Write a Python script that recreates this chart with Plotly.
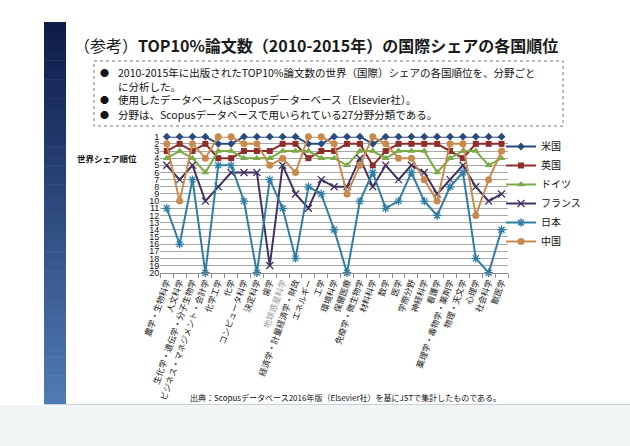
import plotly.graph_objects as go

W, H = 630, 446

categories = ["農学・生物科学", "人文科学", "生化学・遺伝学・分子生物学", "ビジネス・マネジメント・会計学",
              "化学工学", "化学", "コンピュータ科学", "決定科学", "歯学", "地球惑星科学",
              "経済学・計量経済学・財政", "エネルギー", "工学", "環境科学", "保健医療",
              "免疫学・微生物学", "材料科学", "数学", "医学", "学際分野", "神経科学", "看護学",
              "薬理学・毒物学・薬剤学", "物理・天文学", "心理学", "社会科学", "獣医学"]

rank_us = [1, 1, 1, 1, 2, 2, 1, 1, 1, 1, 1, 2, 2, 1, 1, 1, 2, 1, 1, 1, 1, 1, 1, 1, 1, 1, 1]
rank_uk = [3, 2, 3, 2, 4, 4, 3, 3, 3, 2, 2, 4, 3, 3, 2, 2, 5, 3, 2, 2, 2, 2, 3, 4, 2, 2, 2]
rank_de = [4, 3, 4, 6, 3, 3, 4, 4, 4, 3, 3, 3, 4, 4, 5, 3, 3, 4, 3, 3, 3, 6, 4, 3, 3, 5, 4]
rank_fr = [5, 7, 5, 10, 8, 6, 6, 6, 19, 5, 9, 11, 7, 8, 8, 4, 8, 5, 7, 5, 6, 9, 7, 5, 8, 10, 9]
rank_jp = [11, 16, 7, 20, 5, 5, 10, 20, 7, 11, 18, 8, 9, 14, 20, 10, 6, 11, 10, 6, 10, 12, 8, 6, 18, 20, 14]
rank_cn = [2, 10, 2, 4, 1, 1, 2, 2, 5, 4, 6, 1, 1, 2, 9, 5, 1, 2, 4, 4, 7, 10, 2, 2, 12, 7, 3]

series_names = ["米国", "英国", "ドイツ", "フランス", "日本", "中国"]
y_ticks = list(range(1, 21))

title_text = "<span style='font-weight:normal'>（参考）</span><b>TOP10%論文数（2010-2015年）の国際シェアの各国順位</b>"
bullets = ["2010-2015年に出版されたTOP10%論文数の世界（国際）シェアの各国順位を、分野ごと",
           "に分析した。",
           "使用したデータベースはScopusデーターベース（Elsevier社）。",
           "分野は、Scopusデータベースで用いられている27分野分類である。"]
source_text = "出典：Scopusデータベース2016年版（Elsevier社）を基にJSTで集計したものである。"
ytitle_text = "世界シェア順位"

JP_FONT = "Noto Sans CJK JP"

def px(x):
    return x / W

def py(y):
    return 1 - y / H

styles = [
    dict(color="#2A4A7C", symbol="diamond", size=6),
    dict(color="#8E2E2C", symbol="square", size=6),
    dict(color="#7BAA47", symbol="triangle-up", size=7),
    dict(color="#433160", symbol="x-thin", size=7),
    dict(color="#2F7CA5", symbol="asterisk", size=7),
    dict(color="#C88A4D", symbol="circle", size=7),
]
all_ranks = [rank_us, rank_uk, rank_de, rank_fr, rank_jp, rank_cn]

fig = go.Figure()
for name, vals, st in zip(series_names, all_ranks, styles):
    marker = dict(symbol=st["symbol"], size=st["size"], color=st["color"])
    if st["symbol"] in ("x-thin", "asterisk"):
        marker["line"] = dict(color=st["color"], width=1.3)
    fig.add_trace(go.Scatter(x=categories, y=vals, name=name, mode="lines+markers",
                             line=dict(color=st["color"], width=2), marker=marker,
                             cliponaxis=False))

ticktext = [("<span style='color:#9a9a9a'>" + c + "</span>") if c == "地球惑星科学" else c for c in categories]

shapes = []
# left blue band gradient
n = 40
top, bot = 22, 404
c0 = (14, 28, 74)
c1 = (80, 122, 180)
for i in range(n):
    t = i / (n - 1)
    col = "rgb(%d,%d,%d)" % tuple(int(a + (b - a) * t) for a, b in zip(c0, c1))
    y0 = top + (bot - top) * i / n
    y1 = top + (bot - top) * (i + 1) / n + 0.5
    shapes.append(dict(type="rect", xref="paper", yref="paper", x0=px(44), x1=px(66),
                       y0=py(y0), y1=py(y1), fillcolor=col, line=dict(width=0), layer="below"))
# bottom light area
shapes.append(dict(type="rect", xref="paper", yref="paper", x0=0, x1=1, y0=0, y1=py(405),
                   fillcolor="#F1F5F6", line=dict(width=0), layer="below"))
shapes.append(dict(type="line", xref="paper", yref="paper", x0=px(44), x1=1, y0=py(404.5), y1=py(404.5),
                   line=dict(color="#C9D2DA", width=1), layer="below"))
# dotted box
shapes.append(dict(type="rect", xref="paper", yref="paper", x0=px(94), x1=px(563), y0=py(61), y1=py(126),
                   line=dict(color="#777777", width=1, dash="dot"), fillcolor="rgba(0,0,0,0)"))

annotations = []
annotations.append(dict(text=title_text, xref="paper", yref="paper", x=px(72), y=py(45),
                        xanchor="left", yanchor="middle", showarrow=False,
                        font=dict(family=JP_FONT, size=16, color="#1a1a1a")))
bullet_y = [72, 86, 100, 115]
for i, (txt, yy) in enumerate(zip(bullets, bullet_y)):
    if i != 1:
        annotations.append(dict(text="●", xref="paper", yref="paper", x=px(104), y=py(yy),
                                xanchor="center", yanchor="middle", showarrow=False,
                                font=dict(family=JP_FONT, size=9, color="#111111")))
    annotations.append(dict(text=txt, xref="paper", yref="paper", x=px(116), y=py(yy),
                            xanchor="left", yanchor="middle", showarrow=False,
                            font=dict(family=JP_FONT, size=10.5, color="#111111")))
annotations.append(dict(text="<b>" + ytitle_text + "</b>", xref="paper", yref="paper", x=px(107), y=py(158),
                        xanchor="center", yanchor="middle", showarrow=False,
                        font=dict(family=JP_FONT, size=8.5, color="#111111")))
annotations.append(dict(text=source_text, xref="paper", yref="paper", x=px(345), y=py(397),
                        xanchor="center", yanchor="middle", showarrow=False,
                        font=dict(family=JP_FONT, size=8, color="#111111")))

fig.update_layout(
    width=W, height=H,
    margin=dict(l=0, r=0, t=0, b=0, autoexpand=False),
    paper_bgcolor="white", plot_bgcolor="white",
    showlegend=True,
    legend=dict(x=px(501), y=py(132), xanchor="left", yanchor="top",
                font=dict(family=JP_FONT, size=10, color="#111111"),
                bgcolor="rgba(0,0,0,0)", itemwidth=30, tracegroupgap=0),
    shapes=shapes,
    annotations=annotations,
    xaxis=dict(domain=[px(160.3), px(508)], type="category", automargin=False,
               range=[-0.5, len(categories) - 0.5], autorange=False,
               tickmode="array", tickvals=categories, ticktext=ticktext,
               tickangle=-70, tickson="boundaries", ticks="outside", ticklen=4,
               tickcolor="#8c8c8c", showline=True, linecolor="#8c8c8c", linewidth=1,
               showgrid=False, tickfont=dict(family=JP_FONT, size=8.5, color="#222222")),
    yaxis=dict(domain=[py(272.7), py(136.7)], range=[20, 1], autorange=False, automargin=False,
               tickmode="array", tickvals=y_ticks, ticks="", showline=False,
               showgrid=True, gridcolor="#A8A8A8", gridwidth=1, zeroline=False,
               tickfont=dict(family="Liberation Sans", size=9, color="#111111")),
)

fig.write_html("out.html", config={"displayModeBar": False},
               post_script="document.body.style.margin='0px';")
